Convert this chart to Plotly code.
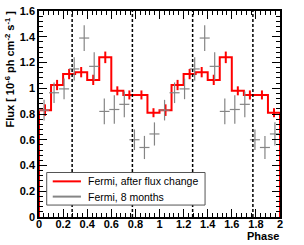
import plotly.graph_objects as go

# ---- data ----
# Fermi, after flux change: 10 phase bins per cycle, shown for two cycles
red_edges = [0.0, 0.1, 0.2, 0.3, 0.4, 0.5, 0.6, 0.7, 0.8, 0.9,
             1.0, 1.1, 1.2, 1.3, 1.4, 1.5, 1.6, 1.7, 1.8, 1.9, 2.0]
red_centers = [0.05, 0.15, 0.25, 0.35, 0.45, 0.55, 0.65, 0.75, 0.85, 0.95,
               1.05, 1.15, 1.25, 1.35, 1.45, 1.55, 1.65, 1.75, 1.85, 1.95]
red_flux = [0.83, 1.025, 1.11, 1.125, 1.065, 1.24, 0.98, 0.948, 0.948, 0.81,
            0.83, 1.025, 1.11, 1.125, 1.065, 1.24, 0.98, 0.948, 0.948, 0.81]
red_err = [0.045, 0.04, 0.04, 0.04, 0.04, 0.045, 0.035, 0.035, 0.035, 0.035,
           0.045, 0.04, 0.04, 0.04, 0.04, 0.045, 0.035, 0.035, 0.035, 0.035]

# Fermi, 8 months: 12 phase bins per cycle
gray_centers = [0.042, 0.125, 0.208, 0.292, 0.375, 0.458, 0.542, 0.625, 0.708, 0.792, 0.875, 0.958,
                1.042, 1.125, 1.208, 1.292, 1.375, 1.458, 1.542, 1.625, 1.708, 1.792, 1.875, 1.958]
gray_halfwidth = [0.0417] * 24
gray_flux = [0.83, 0.965, 0.995, 1.15, 1.39, 1.17, 0.82, 0.835, 0.875, 0.60, 0.54, 0.645,
             0.83, 0.965, 0.995, 1.15, 1.39, 1.17, 0.82, 0.835, 0.875, 0.60, 0.54, 0.645]
gray_err = [0.08, 0.08, 0.08, 0.09, 0.10, 0.11, 0.10, 0.11, 0.10, 0.08, 0.09, 0.09,
            0.08, 0.08, 0.08, 0.09, 0.10, 0.11, 0.10, 0.11, 0.10, 0.08, 0.09, 0.09]

dashed_phases = [0.275, 0.775, 1.275, 1.775]

legend_labels = ["Fermi, after flux change", "Fermi, 8 months"]

RED = "#ff0000"
GRAY = "#858585"
FONT = "Liberation Sans"

fig = go.Figure()

# histogram outline (step), closed down to zero at both ends
step_x = [red_edges[0]] + red_edges[:-1] + [red_edges[-1], red_edges[-1]]
step_y = [0] + red_flux + [red_flux[-1], 0]
fig.add_trace(go.Scatter(x=step_x, y=step_y, mode="lines", line_shape="hv",
                         line=dict(color=RED, width=2), showlegend=False, hoverinfo="skip"))
fig.add_trace(go.Scatter(x=red_centers, y=red_flux, mode="markers",
                         marker=dict(size=0.1, color=RED, opacity=0),
                         error_y=dict(type="data", array=red_err, color=RED, thickness=2, width=0),
                         showlegend=False))

fig.add_trace(go.Scatter(x=gray_centers, y=gray_flux, mode="markers",
                         marker=dict(size=0.1, color=GRAY, opacity=0),
                         error_x=dict(type="data", array=gray_halfwidth, color=GRAY, thickness=1.2, width=0),
                         error_y=dict(type="data", array=gray_err, color=GRAY, thickness=1.2, width=0),
                         showlegend=False))

for xp in dashed_phases:
    fig.add_shape(type="line", x0=xp, x1=xp, xref="x", yref="paper", y0=0, y1=1,
                  line=dict(color="black", width=1.5, dash="3px,2px"))

# legend drawn in paper coordinates (ROOT-style TLegend box)
fig.add_shape(type="rect", xref="paper", yref="paper", x0=0.032, x1=0.689, y0=0.058, y1=0.216,
              line=dict(color="#555", width=1), fillcolor="white", layer="above")
for lab, col, ly in zip(legend_labels, [RED, GRAY], [0.173, 0.099]):
    fig.add_shape(type="line", xref="paper", yref="paper", x0=0.057, x1=0.174, y0=ly, y1=ly,
                  line=dict(color=col, width=2), layer="above")
    fig.add_annotation(text=lab, xref="paper", yref="paper", x=0.195, y=ly,
                       xanchor="left", yanchor="middle", showarrow=False,
                       font=dict(family=FONT, size=10.5, color="black"))

axis_common = dict(showgrid=False, zeroline=False, showline=True, linecolor="black", linewidth=1.5,
                   mirror="ticks", ticks="inside", ticklen=8, tickwidth=1, tickcolor="black",
                   tickfont=dict(family=FONT, size=11, color="black", weight="bold"))

fig.update_xaxes(range=[0, 2], tickmode="linear", tick0=0, dtick=0.2, ticklabelstandoff=-4,
                 minor=dict(dtick=0.04, ticks="inside", ticklen=4, tickcolor="black", tickwidth=1),
                 **axis_common)
fig.update_yaxes(range=[0, 1.6], tickmode="linear", tick0=0, dtick=0.2,
                 minor=dict(dtick=0.04, ticks="inside", ticklen=4, tickcolor="black", tickwidth=1),
                 **axis_common)

fig.add_annotation(text="Flux [ 10<sup>-6</sup> ph cm<sup>-2</sup> s<sup>-1</sup> ]",
                   textangle=-90, xref="paper", yref="paper", x=-0.12, y=1.01,
                   xanchor="center", yanchor="top", showarrow=False,
                   font=dict(family=FONT, size=11, color="black", weight="bold"))
fig.add_annotation(text="Phase", xref="paper", yref="paper", x=1.0, y=-0.128,
                   xanchor="right", yanchor="bottom", showarrow=False, borderpad=0,
                   font=dict(family=FONT, size=11, color="black", weight="bold"))

fig.update_layout(
    width=304, height=245,
    margin=dict(l=39, r=24, t=5, b=28),
    paper_bgcolor="white", plot_bgcolor="white",
    showlegend=False,
)

fig.write_html("out.html", config={"displayModeBar": False},
               post_script="document.body.style.margin='0px';")
